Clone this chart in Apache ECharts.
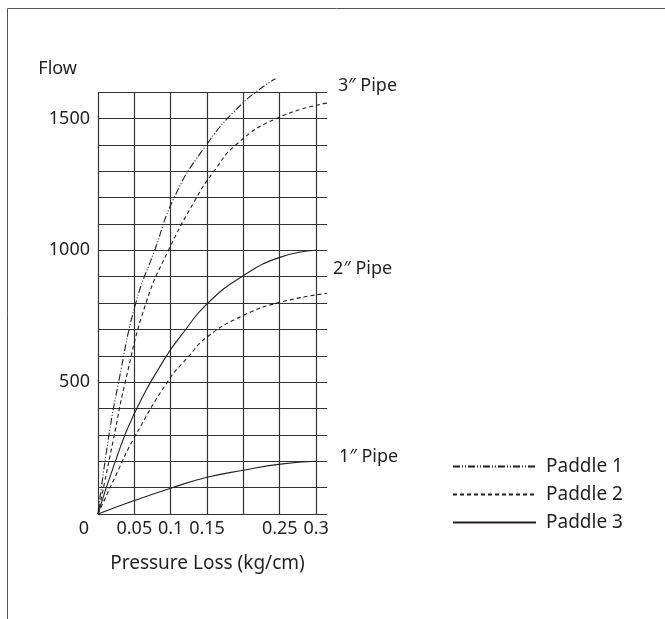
<!DOCTYPE html>
<html>
<head>
<meta charset="utf-8">
<script src="https://cdn.jsdelivr.net/npm/echarts@6/dist/echarts.min.js"></script>
<style>
  html, body { margin: 0; padding: 0; background: #fff; }
  #chart { width: 665px; height: 619px; }
</style>
</head>
<body>
<div id="chart"></div>
<script>
// x tick labels, one per 0.05 step (0.2 is left blank in the original)
var xTickLabels = ['0', '0.05', '0.1', '0.15', '', '0.25', '0.3']

// 3" pipe, paddle 1 (dash-dot-dot)
var pipe3Paddle1X = [0, 0.014, 0.028, 0.052, 0.078, 0.104, 0.144, 0.198, 0.244]
var pipe3Paddle1Y = [0, 280, 495, 800, 1000, 1195, 1380, 1555, 1650]
// 3" pipe, paddle 2 (dashed)
var pipe3Paddle2X = [0, 0.021, 0.037, 0.066, 0.097, 0.134, 0.157, 0.191, 0.248, 0.315]
var pipe3Paddle2Y = [0, 280, 495, 800, 1000, 1192, 1290, 1403, 1503, 1558]
// 2" pipe, paddle 3 (solid)
var pipe2Paddle3X = [0, 0.023, 0.049, 0.092, 0.118, 0.150, 0.200, 0.251, 0.300]
var pipe2Paddle3Y = [0, 193, 375, 590, 690, 797, 904, 974, 1000]
// 2" pipe, paddle 2 (dashed)
var pipe2Paddle2X = [0, 0.026, 0.049, 0.097, 0.122, 0.150, 0.200, 0.251, 0.315]
var pipe2Paddle2Y = [0, 155, 285, 507, 589, 671, 753, 803, 837]
// 1" pipe, paddle 3 (solid)
var pipe1Paddle3X = [0, 0.049, 0.099, 0.150, 0.200, 0.251, 0.300]
var pipe1Paddle3Y = [0, 50, 97, 139, 166, 189, 200]

var ink = '#231f20'
var font = 'Noto Sans'
var dashDotDot = [7, 2, 1, 2, 1, 2]
var dashed = [4, 3]

function pairs(xs, ys) {
  return xs.map(function (x, i) { return [x, ys[i]] })
}

function curve(name, xs, ys, dash, pipeLabel, offset) {
  var s = {
    name: name,
    type: 'line',
    data: pairs(xs, ys),
    smooth: 0.5,
    clip: false,
    symbol: 'none',
    itemStyle: { color: ink },
    lineStyle: { color: ink, width: 1.1, type: dash || 'solid' },
    silent: true
  }
  if (pipeLabel) {
    s.endLabel = {
      show: true,
      formatter: pipeLabel,
      distance: 0,
      offset: offset,
      color: ink,
      fontSize: 18,
      fontFamily: font
    }
  }
  return s
}

var chart = echarts.init(document.getElementById('chart'))
chart.setOption({
  animation: false,
  graphic: [{
    type: 'polyline',
    shape: { points: [[7.5, 619], [7.5, 8.5], [665, 8.5]] },
    style: { stroke: '#555', lineWidth: 1, fill: null }
  }],
  grid: { left: 98, right: 338, top: 92, bottom: 105 },
  legend: {
    orient: 'vertical',
    left: 447,
    top: 452,
    itemWidth: 83,
    itemHeight: 14,
    itemGap: 9,
    data: ['Paddle 1', 'Paddle 2', 'Paddle 3'],
    itemStyle: { opacity: 0 },
    textStyle: { color: ink, fontSize: 19, fontFamily: font, padding: [0, 0, 0, 5] },
    selectedMode: false
  },
  xAxis: {
    type: 'value',
    min: 0,
    max: 0.315,
    interval: 0.05,
    name: 'Pressure Loss (kg/cm)',
    nameLocation: 'middle',
    nameGap: 40,
    nameTextStyle: { color: ink, fontSize: 19, fontFamily: font, padding: [0, 10, 0, 0] },
    axisLine: { show: false },
    axisTick: { show: false },
    axisLabel: {
      color: ink,
      fontSize: 18,
      fontFamily: font,
      margin: 6,
      showMaxLabel: false,
      formatter: function (v) {
        var i = Math.round(v / 0.05)
        if (i === 0) return '{z|0}'
        return xTickLabels[i] || ''
      },
      rich: { z: { padding: [0, 28, 0, 0], fontSize: 18, fontFamily: font, color: ink } }
    },
    splitLine: { show: true, showMinLine: true, showMaxLine: false, lineStyle: { color: '#333', width: 1.2 } }
  },
  yAxis: {
    type: 'value',
    min: 0,
    max: 1600,
    interval: 100,
    name: 'Flow',
    nameLocation: 'end',
    nameGap: 14,
    nameTextStyle: { color: ink, fontSize: 18, fontFamily: font, align: 'right', padding: [0, 21, 0, 0] },
    axisLine: { show: false },
    axisTick: { show: false },
    axisLabel: {
      color: ink,
      fontSize: 18,
      fontFamily: font,
      margin: 8,
      formatter: function (v) {
        return v > 0 && v % 500 === 0 ? String(v) : ''
      }
    },
    splitLine: { show: true, lineStyle: { color: '#333', width: 1.2 } }
  },
  series: [
    curve('Paddle 1', pipe3Paddle1X, pipe3Paddle1Y, dashDotDot),
    curve('Paddle 2', pipe3Paddle2X, pipe3Paddle2Y, dashed, '3″ Pipe', [11, -17]),
    curve('Paddle 3', pipe2Paddle3X, pipe2Paddle3Y, null, '2″ Pipe', [17, 19]),
    curve('Paddle 2', pipe2Paddle2X, pipe2Paddle2Y, dashed),
    curve('Paddle 3', pipe1Paddle3X, pipe1Paddle3Y, null, '1″ Pipe', [23, -4])
  ]
})
</script>
</body>
</html>
